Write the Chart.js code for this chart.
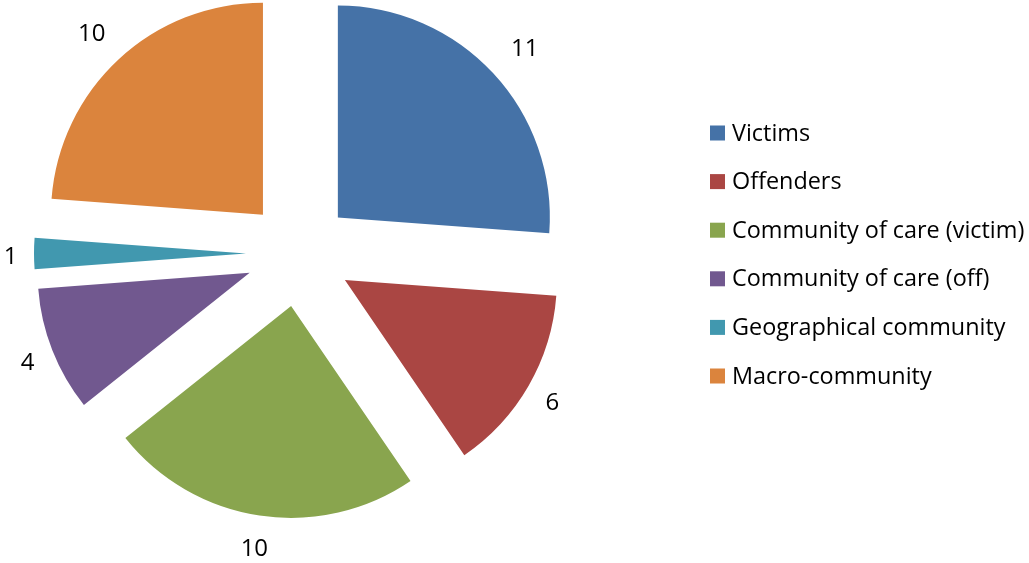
<!DOCTYPE html>
<html>
<head>
<meta charset="utf-8">
<script src="https://cdn.jsdelivr.net/npm/chart.js@4.4.1/dist/chart.umd.min.js"></script>
<style>
    html, body { margin: 0; padding: 0; background: #fff; }
    canvas { display: block; }
</style>
</head>
<body>
<canvas id="stakeholderChart" width="1029" height="563"></canvas>
<script>
var groups = ['Victims', 'Offenders', 'Community of care (victim)', 'Community of care (off)', 'Geographical community', 'Macro-community'];
var counts = [11, 6, 10, 4, 1, 10];
var sliceColors = ['#4572A7', '#AA4643', '#89A54E', '#71588F', '#4198AF', '#DB843D'];

// push every slice out from the middle, like the exploded pie in Excel
var explodeSlices = {
    id: 'explodeSlices',
    afterDatasetsUpdate: function (chart, args, opts) {
        chart.getDatasetMeta(0).data.forEach(function (arc) {
            var mid = (arc.startAngle + arc.endAngle) / 2;
            arc.x += Math.cos(mid) * opts.distance;
            arc.y += Math.sin(mid) * opts.distance;
        });
    }
};

// value written just outside each slice; the label box sits a fixed gap from the rim
var sliceLabels = {
    id: 'sliceLabels',
    afterDatasetsDraw: function (chart, args, opts) {
        var ctx = chart.ctx;
        var values = chart.data.datasets[0].data;
        ctx.save();
        ctx.font = opts.font;
        ctx.fillStyle = opts.color;
        ctx.textAlign = 'left';
        ctx.textBaseline = 'alphabetic';
        chart.getDatasetMeta(0).data.forEach(function (arc, i) {
            var txt = String(values[i]);
            var m = ctx.measureText(txt);
            var mid = (arc.startAngle + arc.endAngle) / 2;
            var c = Math.cos(mid), s = Math.sin(mid);
            var halfW = (m.width + opts.padX * 2) / 2;
            var halfH = opts.boxHeight / 2;
            var reach = Math.min(Math.abs(c) > 0.001 ? halfW / Math.abs(c) : 1e9,
                                 Math.abs(s) > 0.001 ? halfH / Math.abs(s) : 1e9);
            var r = arc.outerRadius + opts.gap + reach;
            var px = arc.x + c * r;
            var py = arc.y + s * r + opts.nudgeY;
            // centre the ink of the text on (px, py)
            var inkW = m.actualBoundingBoxLeft + m.actualBoundingBoxRight;
            var inkH = m.actualBoundingBoxAscent + m.actualBoundingBoxDescent;
            ctx.fillText(txt, px - inkW / 2 + m.actualBoundingBoxLeft, py + inkH / 2 - m.actualBoundingBoxDescent);
        });
        ctx.restore();
    }
};

// legend column on the right, vertically centred on the pie
var sideLegend = {
    id: 'sideLegend',
    afterDraw: function (chart, args, opts) {
        var ctx = chart.ctx;
        var items = chart.options.plugins.legend.labels.generateLabels(chart);
        var area = chart.chartArea;
        var midY = (area.top + area.bottom) / 2 + 1;
        var y0 = midY - (items.length - 1) * opts.rowHeight / 2;
        ctx.save();
        ctx.font = opts.font;
        ctx.textAlign = 'left';
        ctx.textBaseline = 'middle';
        items.forEach(function (item, i) {
            var y = y0 + i * opts.rowHeight;
            ctx.fillStyle = item.fillStyle;
            ctx.fillRect(opts.left, y - opts.box / 2, opts.box, opts.box);
            ctx.fillStyle = opts.color;
            ctx.fillText(item.text, opts.left + opts.box + opts.gap, y + 1);
        });
        ctx.restore();
    }
};

var ctx = document.getElementById('stakeholderChart').getContext('2d');
var stakeholderChart = new Chart(ctx, {
    type: 'pie',
    data: {
        labels: groups,
        datasets: [{
            data: counts,
            backgroundColor: sliceColors,
            borderWidth: 0,
            radius: 212
        }]
    },
    options: {
        responsive: false,
        animation: false,
        events: [],
        layout: {
            padding: { left: 0, right: 431, top: 0, bottom: 56 }
        },
        plugins: {
            legend: { display: false },
            tooltip: { enabled: false },
            explodeSlices: { distance: 53 },
            sliceLabels: { gap: 6, padX: 12, boxHeight: 48, nudgeY: 2, font: '24px "Open Sans"', color: '#000' },
            sideLegend: { left: 710, box: 15, gap: 7, rowHeight: 48.6, font: '23.4px "Open Sans"', color: '#000' }
        }
    },
    plugins: [explodeSlices, sliceLabels, sideLegend]
});
</script>
</body>
</html>
